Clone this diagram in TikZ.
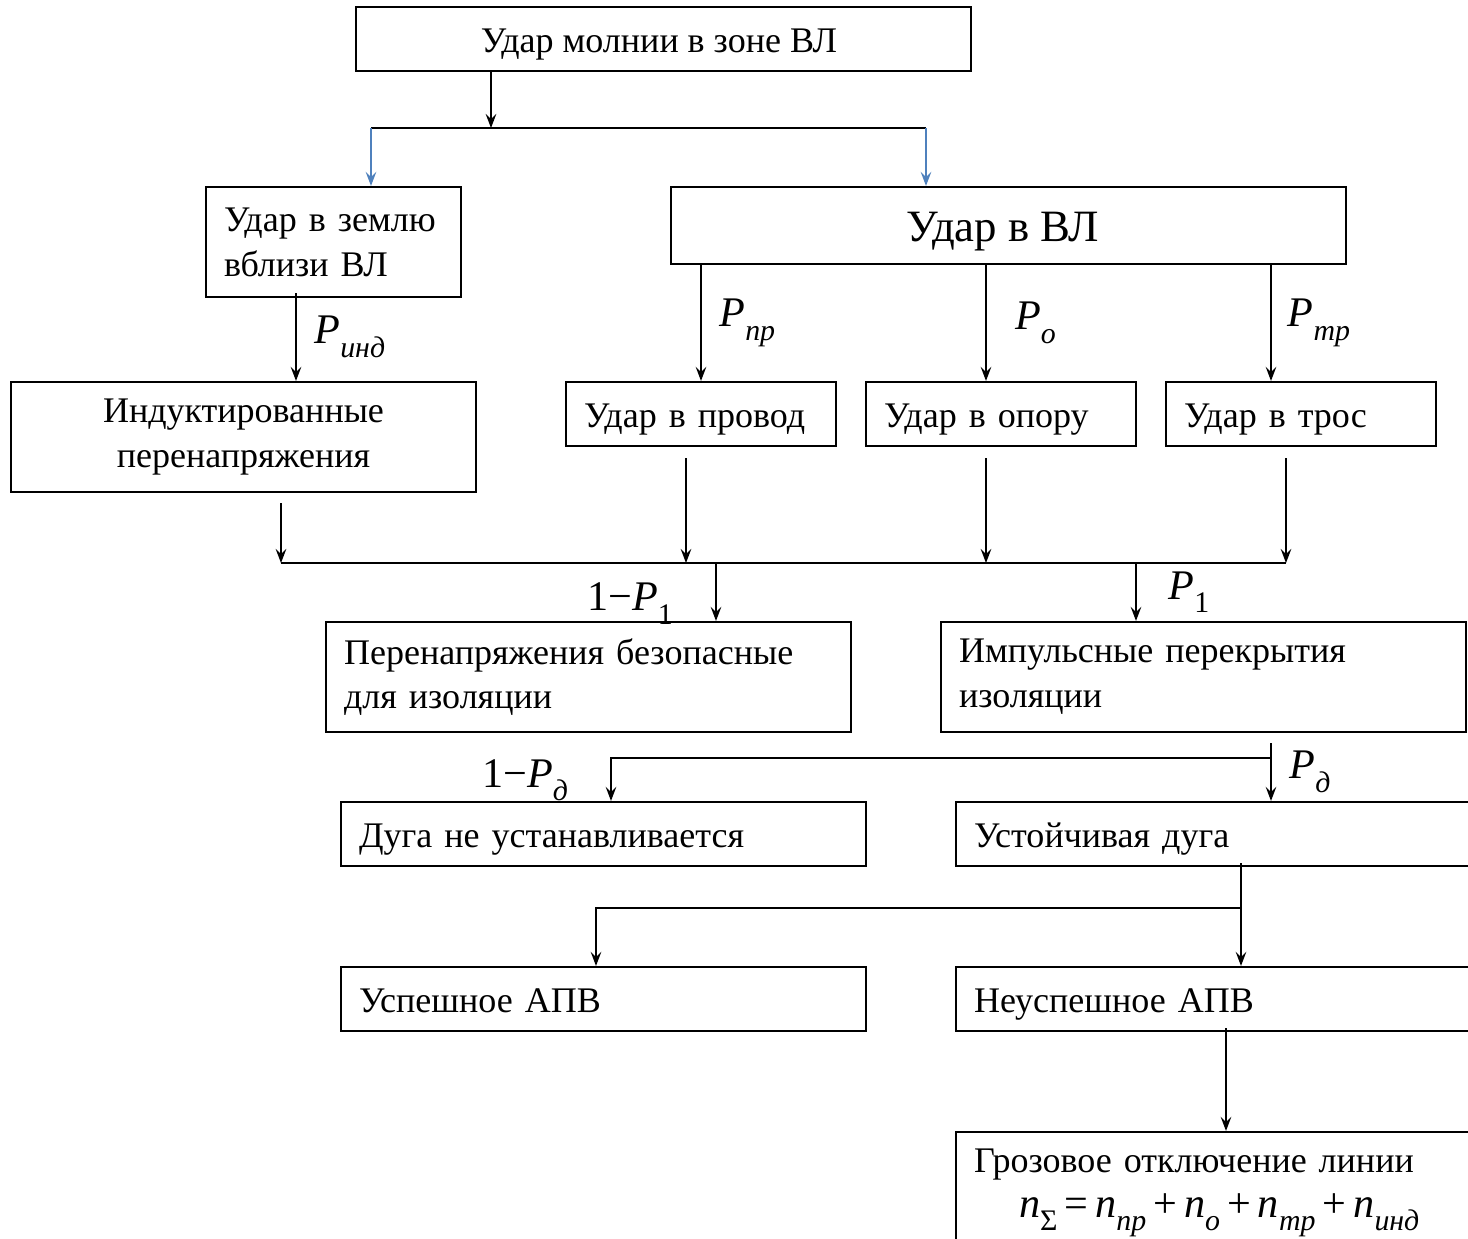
\documentclass[tikz,border=0pt]{standalone}
\usepackage{fontspec}
\setmainfont{Liberation Serif}
\usetikzlibrary{arrows.meta,calc}
\definecolor{splitblue}{RGB}{79,129,189}
% probability with index
\newcommand{\psub}[2]{\textit{#1}\raisebox{-0.32em}{\fontsize{17}{17}\selectfont #2}}
\tikzset{
	block/.style={draw, line width=1.2pt, inner sep=0pt,
		font=\fontsize{20.5}{25.5}\selectfont},
	lblock/.style={block, align=left, inner xsep=0.36cm, text width=#1},
	cblock/.style={block, align=center},
	oneline/.style={text height=19pt, text depth=4pt},
	wire/.style={line width=1.1pt},
	arrow/.style={wire, -{Stealth[length=8pt,width=6pt,inset=3pt]}},
	prob/.style={font=\fontsize{24}{24}\selectfont, inner sep=2pt}
}
\begin{document}
\begin{tikzpicture}[x=0.02cm, y=-0.02cm]
	\useasboundingbox (0,0) rectangle (1468,1239);
	% draw rectangle node
	\node[cblock, oneline,
	minimum width=12.3cm,
	minimum height=1.28cm] (strike) at (663.5,39) {
	Удар молнии в зоне ВЛ
	};
	\node[lblock=4.38cm,
	minimum height=2.2cm] (ground) at (333.5,242) {
	Удар в землю\\вблизи ВЛ
	};
	\node[cblock,
	minimum width=13.5cm,
	minimum height=1.54cm,
	text height=23pt, text depth=5pt,
	font=\fontsize{25.5}{30}\selectfont] (line) at (1008.5,225.5) {
	Удар в ВЛ
	};
	\node[cblock,
	minimum width=9.3cm,
	minimum height=2.2cm] (induced) at (243.5,437) {
	Индуктированные\\перенапряжения
	};
	\node[lblock=4.68cm, oneline,
	minimum height=1.28cm] (phase) at (701,414) {
	Удар в провод
	};
	\node[lblock=4.68cm, oneline,
	minimum height=1.28cm] (tower) at (1001,414) {
	Удар в опору
	};
	\node[lblock=4.68cm, oneline,
	minimum height=1.28cm] (shield) at (1301,414) {
	Удар в трос
	};
	\node[lblock=9.78cm,
	minimum height=2.2cm] (safe) at (588.5,677) {
	Перенапряжения безопасные\\для изоляции
	};
	\node[lblock=9.78cm,
	minimum height=2.2cm] (flash) at (1203.5,677) {
	Импульсные перекрытия\\изоляции
	};
	\node[lblock=9.78cm, oneline,
	minimum height=1.28cm] (noarc) at (603.5,834) {
	Дуга не устанавливается
	};
	\node[lblock=9.78cm, oneline,
	minimum height=1.28cm] (arc) at (1218.5,834) {
	Устойчивая дуга
	};
	\node[lblock=9.78cm, oneline,
	minimum height=1.28cm] (reclose) at (603.5,999) {
	Успешное АПВ
	};
	\node[lblock=9.78cm, oneline,
	minimum height=1.28cm] (failed) at (1218.5,999) {
	Неуспешное АПВ
	};
	\node[lblock=9.78cm, text height=20pt,
	minimum height=2.2cm] (trip) at (1218.5,1187) {
	Грозовое отключение линии\\
	\hspace*{0.9cm}{\fontsize{24}{24}\selectfont\psub{n}{Σ}\,=\,\psub{n}{\itshape пр}\,+\,\psub{n}{\itshape о}\,+\,\psub{n}{\itshape тр}\,+\,\psub{n}{\itshape инд}}
	};
	
	% Split
	\draw[arrow] ($(strike.south)+(-172.5,0)$) -- ++(0,56) coordinate (split);
	\draw[wire] ($(split)+(-120,0)$) coordinate (splitL) -- ($(split)+(435,0)$) coordinate (splitR);
	\draw[arrow, splitblue] (splitL) -- (splitL |- ground.north);
	\draw[arrow, splitblue] (splitR) -- (splitR |- line.north);
	
	% Arrows
	\draw[arrow] ($(ground.south)+(-37.5,-5)$) coordinate (g1) -- (g1 |- induced.north)
	node[prob, midway, right, xshift=8pt]{\psub{P}{\itshape инд}};
	\draw[arrow] (line.south -| phase.north) -- (phase.north)
	node[prob, midway, right, xshift=8pt]{\psub{P}{\itshape пр}};
	\coordinate (t1) at ($(tower.north)+(-15,0)$);
	\draw[arrow] (line.south -| t1) -- (t1)
	node[prob, midway, right, xshift=14pt]{\psub{P}{\itshape о}};
	\coordinate (s1) at ($(shield.north)+(-30,0)$);
	\draw[arrow] (line.south -| s1) -- (s1)
	node[prob, midway, right, xshift=7pt]{\psub{P}{\itshape тр}};
	
	% Collecting line
	\coordinate (busL) at ($(induced.south)+(37.5,70)$);
	\draw[arrow] ($(induced.south)+(37.5,10)$) -- (busL);
	\draw[arrow] ($(phase.south)+(-15,11)$) coordinate (c2) -- (c2 |- busL);
	\draw[arrow] ($(tower.south)+(-15,11)$) coordinate (c3) -- (c3 |- busL);
	\draw[arrow] ($(shield.south)+(-15,11)$) coordinate (c4) -- (c4 |- busL);
	\draw[wire] (busL) -- (c4 |- busL);
	
	\coordinate (b1) at ($(safe.north)+(127.5,0)$);
	\draw[arrow] (b1 |- busL) -- (b1)
	node[prob, pos=0.7, left, xshift=-22pt]{1−\psub{P}{1}};
	\coordinate (b2) at ($(flash.north)+(-67.5,0)$);
	\draw[arrow] (b2 |- busL) -- (b2)
	node[prob, pos=0.5, right, xshift=16pt]{\psub{P}{1}};
	
	% Arc
	\coordinate (f1) at ($(flash.south)+(67.5,10)$);
	\draw[arrow] (f1) -- (f1 |- arc.north)
	node[prob, midway, right, xshift=8pt]{\psub{P}{\itshape д}};
	\draw[arrow] ($(f1)+(0,15)$) -| ($(noarc.north)+(7.5,0)$)
	node[prob, pos=0.76, left, xshift=-22pt]{1−\psub{P}{\itshape д}};
	
	% Reclosing
	\coordinate (a1) at ($(arc.south)+(22.5,-4)$);
	\draw[arrow] (a1) -- (a1 |- failed.north);
	\draw[arrow] ($(a1)+(0,45)$) -| ($(reclose.north)+(-7.5,0)$);
	\draw[arrow] ($(failed.south)+(7.5,-4)$) coordinate (r1) -- (r1 |- trip.north);
\end{tikzpicture}
\end{document}
